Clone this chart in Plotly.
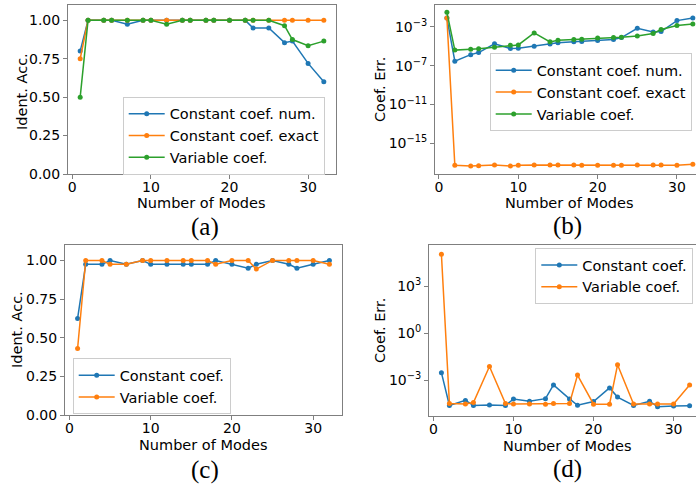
import plotly.graph_objects as go

W, H = 696, 487

# ---------------- data ----------------
modes = [1, 2, 4, 5, 7, 9, 10, 12, 14, 15, 17, 18, 20, 22, 23, 25, 27, 28, 30, 32]

# (a) identification accuracy
acc_a_const_num = [0.80, 1.0, 1.0, 1.0, 0.975, 1.0, 1.0, 1.0, 1.0, 1.0, 1.0, 1.0, 1.0, 1.0,
                   0.95, 0.95, 0.855, 0.865, 0.72, 0.60]
acc_a_const_exact = [0.75, 1.0, 1.0, 1.0, 1.0, 1.0, 1.0, 1.0, 1.0, 1.0, 1.0, 1.0, 1.0, 1.0,
                     1.0, 1.0, 1.0, 1.0, 1.0, 1.0]
acc_a_variable = [0.50, 1.0, 1.0, 1.0, 1.0, 1.0, 1.0, 0.975, 1.0, 1.0, 1.0, 1.0, 1.0, 1.0,
                  1.0, 1.0, 0.965, 0.875, 0.835, 0.865]

# (b) coefficient error
err_b_const_num = [8.3e-3, 3.0e-7, 1.4e-6, 2.3e-6, 1.8e-5, 6.0e-6, 6.5e-6, 1.05e-5, 1.7e-5, 2.3e-5,
                   2.9e-5, 3.2e-5, 4.0e-5, 5.0e-5, 8.1e-5, 7.2e-4, 3.1e-4, 3.3e-4, 4.5e-3, 8.3e-3]
err_b_const_exact = [8.3e-3, 5.5e-18, 4.8e-18, 5.0e-18, 6.0e-18, 4.8e-18, 5.5e-18, 6.0e-18, 6.0e-18, 6.0e-18,
                     6.0e-18, 5.5e-18, 5.5e-18, 5.5e-18, 5.5e-18, 6.0e-18, 6.0e-18, 6.0e-18, 5.5e-18, 7.0e-18]
err_b_variable = [3.2e-2, 4.1e-6, 5.1e-6, 5.5e-6, 8.1e-6, 1.3e-5, 1.4e-5, 2.4e-4, 2.9e-5, 4.3e-5,
                  5.0e-5, 5.5e-5, 7.4e-5, 8.1e-5, 8.7e-5, 1.2e-4, 2.1e-4, 5.4e-4, 1.4e-3, 2.0e-3]

# (c) identification accuracy
acc_c_const = [0.625, 0.975, 0.975, 1.0, 0.975, 1.0, 0.975, 0.975, 0.975, 0.975, 0.975, 1.0, 0.975,
               0.95, 0.975, 1.0, 0.975, 0.95, 0.975, 1.0]
acc_c_variable = [0.43, 1.0, 1.0, 0.975, 0.975, 1.0, 1.0, 1.0, 1.0, 1.0, 1.0, 0.975, 1.0,
                  1.0, 0.944, 1.0, 1.0, 1.0, 1.0, 0.975]

# (d) coefficient error
err_d_const = [3.0e-3, 2.4e-5, 5.1e-5, 2.4e-5, 2.6e-5, 2.4e-5, 6.3e-5, 4.5e-5, 6.6e-5, 4.9e-4,
               6.3e-5, 2.5e-5, 4.3e-5, 3.2e-4, 8.3e-5, 2.4e-5, 4.5e-5, 2.0e-5, 2.2e-5, 2.3e-5]
err_d_variable = [1.1e5, 3.2e-5, 3.0e-5, 3.7e-5, 7.4e-3, 3.2e-5, 3.0e-5, 3.0e-5, 2.9e-5, 3.2e-5,
                  3.2e-5, 2.1e-3, 2.9e-5, 2.9e-5, 9.5e-3, 3.0e-5, 3.0e-5, 3.0e-5, 3.0e-5, 4.9e-4]

acc_ticks = [0.0, 0.25, 0.5, 0.75, 1.0]
acc_ticklabels = ["0.00", "0.25", "0.50", "0.75", "1.00"]
b_ticks = [1e-3, 1e-7, 1e-11, 1e-15]
b_ticklabels = ["10<sup>−3</sup>", "10<sup>−7</sup>", "10<sup>−11</sup>", "10<sup>−15</sup>"]
d_ticks = [1e3, 1e0, 1e-3]
d_ticklabels = ["10<sup>3</sup>", "10<sup>0</sup>", "10<sup>−3</sup>"]
x_ticks = [0, 10, 20, 30]

# ---------------- style ----------------
C0, C1, C2 = "#1f77b4", "#ff7f0e", "#2ca02c"
FONT = "DejaVu Sans"
AXC = "#7f7f7f"


def px(xp):
    return xp / W


def py(yp):
    return 1 - yp / H


fig = go.Figure()


def add(x, y, color, name, xa, ya, leg):
    fig.add_trace(go.Scatter(
        x=x, y=y, mode="lines+markers", name=name,
        line=dict(color=color, width=1.5),
        marker=dict(color=color, size=5),
        xaxis=xa, yaxis=ya, legend=leg, legendgroup=leg + name,
    ))


add(modes, acc_a_const_num, C0, "Constant coef. num.", "x", "y", "legend")
add(modes, acc_a_const_exact, C1, "Constant coef. exact", "x", "y", "legend")
add(modes, acc_a_variable, C2, "Variable coef.", "x", "y", "legend")

add(modes, err_b_const_num, C0, "Constant coef. num.", "x2", "y2", "legend2")
add(modes, err_b_const_exact, C1, "Constant coef. exact", "x2", "y2", "legend2")
add(modes, err_b_variable, C2, "Variable coef.", "x2", "y2", "legend2")

add(modes, acc_c_const, C0, "Constant coef.", "x3", "y3", "legend3")
add(modes, acc_c_variable, C1, "Variable coef.", "x3", "y3", "legend3")

add(modes, err_d_const, C0, "Constant coef.", "x4", "y4", "legend4")
add(modes, err_d_variable, C1, "Variable coef.", "x4", "y4", "legend4")


def xax(dom, rng, anchor):
    return dict(domain=dom, range=rng, anchor=anchor, tickvals=x_ticks,
                showline=True, linecolor=AXC, linewidth=1, mirror=True,
                ticks="outside", ticklen=4, tickcolor=AXC, tickwidth=1,
                ticklabelstandoff=-4,
                showgrid=False, zeroline=False,
                tickfont=dict(family=FONT, size=14, color="#000"))


def yax(dom, rng, anchor, vals, texts, log=False, mirror=True):
    d = dict(domain=dom, range=rng, anchor=anchor, tickvals=vals, ticktext=texts,
             showline=True, linecolor=AXC, linewidth=1, mirror=mirror,
             ticks="outside", ticklen=4, tickcolor=AXC, tickwidth=1,
             showgrid=False, zeroline=False,
             tickfont=dict(family=FONT, size=14, color="#000"))
    if log:
        d["type"] = "log"
    return d


def leg(xp, yp):
    return dict(x=px(xp), y=py(yp), xanchor="left", yanchor="top",
                bgcolor="rgba(255,255,255,0.8)", bordercolor="#cccccc", borderwidth=1,
                font=dict(family=FONT, size=14.5, color="#000"),
                tracegroupgap=0, itemwidth=36)


fig.update_layout(
    width=W, height=H,
    margin=dict(l=0, r=0, t=0, b=0, autoexpand=False),
    paper_bgcolor="white", plot_bgcolor="white",
    font=dict(family=FONT, size=14, color="#000"),
    xaxis=xax([px(68), px(336)], [-0.55, 33.55], "y"),
    yaxis=yax([py(174), py(5)], [0, 1.1], "x", acc_ticks, acc_ticklabels),
    xaxis2=xax([px(435), 1.0], [-0.5, 32.4], "y2"),
    yaxis2=yax([py(174), py(5)], [-18.15, -0.74], "x2", b_ticks, b_ticklabels, log=True, mirror=False),
    xaxis3=xax([px(65), px(342)], [-0.55, 33.55], "y3"),
    yaxis3=yax([py(415), py(245)], [0, 1.1], "x3", acc_ticks, acc_ticklabels),
    xaxis4=xax([px(429), 1.0], [-0.55, 32.8], "y4"),
    yaxis4=yax([py(416), py(245)], [-5.29, 5.63], "x4", d_ticks, d_ticklabels, log=True, mirror=False),
    legend=leg(122.7, 96.7),
    legend2=leg(489.7, 53.3),
    legend3=leg(72.7, 358.3),
    legend4=leg(535.3, 248),
    showlegend=True,
)


def ann(text, xp, yp, size=14.5, angle=0, family=FONT):
    fig.add_annotation(text=text, x=px(xp), y=py(yp), xref="paper", yref="paper",
                       xanchor="center", yanchor="middle", showarrow=False,
                       textangle=angle, font=dict(family=family, size=size, color="#000"))


# axis titles
ann("Number of Modes", 201.5, 203)
ann("Number of Modes", 569, 203)
ann("Number of Modes", 203.5, 444.5)
ann("Number of Modes", 567, 445.5)
ann("Ident. Acc.", 22, 92, angle=-90)
ann("Coef. Err.", 380, 90, angle=-90)
ann("Ident. Acc.", 17, 330, angle=-90)
ann("Coef. Err.", 380, 331, angle=-90)

# panel labels
SERIF = "Liberation Serif"
ann("(a)", 205, 227, size=25, family=SERIF)
ann("(b)", 567, 226, size=25, family=SERIF)
ann("(c)", 205, 470, size=25, family=SERIF)
ann("(d)", 567, 469, size=25, family=SERIF)

fig.write_html(
    "out.html",
    config={"displayModeBar": False},
    post_script="document.body.style.margin='0';document.body.style.overflow='hidden';",
)
